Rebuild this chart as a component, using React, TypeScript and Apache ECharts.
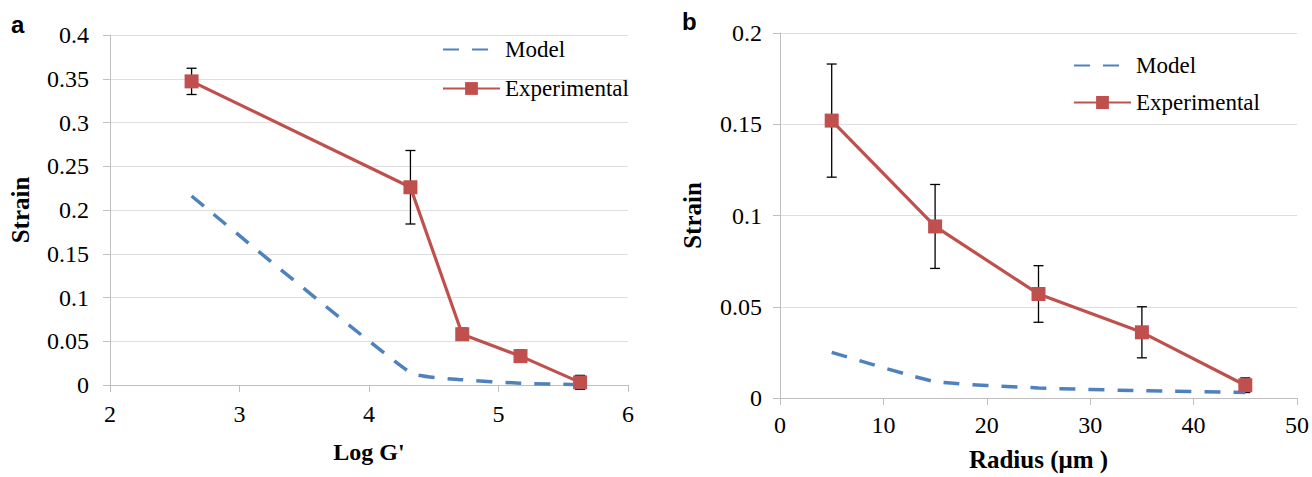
import React, { useEffect, useRef } from "react";
import * as echarts from "echarts";

// Panel a
const logG = [2.63, 4.32, 4.72, 5.17, 5.63];
const expA = [0.347, 0.226, 0.058, 0.033, 0.003];
const errA = [0.015, 0.042, 0.007, 0.007, 0.008];
const modelA = [0.216, 0.014, 0.006, 0.002, 0.0003];

// Panel b
const radius = [5, 15, 25, 35, 45];
const expB = [0.152, 0.094, 0.057, 0.036, 0.007];
const errB = [0.031, 0.023, 0.0155, 0.014, 0.004];
const modelB = [0.025, 0.009, 0.0055, 0.004, 0.003];

const RED = "#C0504D";
const BLUE = "#4F81BD";
const AXIS = "#bfbfbf";
const SERIF = "'Liberation Serif', 'DejaVu Serif', serif";

const fmt = (v: number) => String(+v.toFixed(2));

function errorSeries(xs: number[], ys: number[], es: number[], idx: number) {
  return {
    type: "custom",
    xAxisIndex: idx,
    yAxisIndex: idx,
    z: 1,
    silent: true,
    data: xs.map((x, i) => [x, ys[i] - es[i], ys[i] + es[i]]),
    renderItem: (params: any, api: any) => {
      const lo = api.coord([api.value(0), api.value(1)]);
      const hi = api.coord([api.value(0), api.value(2)]);
      const w = 5;
      const style = { stroke: "#000", lineWidth: 1.3 };
      return {
        type: "group",
        children: [
          { type: "line", shape: { x1: lo[0], y1: lo[1], x2: hi[0], y2: hi[1] }, style },
          { type: "line", shape: { x1: lo[0] - w, y1: lo[1], x2: lo[0] + w, y2: lo[1] }, style },
          { type: "line", shape: { x1: hi[0] - w, y1: hi[1], x2: hi[0] + w, y2: hi[1] }, style },
        ],
      };
    },
  };
}

function xAxis(idx: number, min: number, max: number, interval: number, name: string, fs: number, nfs: number, gap: number, margin: number) {
  return {
    type: "value",
    gridIndex: idx,
    min,
    max,
    interval,
    name,
    nameLocation: "middle",
    nameGap: gap,
    nameTextStyle: { fontFamily: SERIF, fontWeight: "bold", fontSize: nfs, color: "#000" },
    axisLine: { show: true, onZero: false, lineStyle: { color: AXIS, width: 1 } },
    axisTick: { show: true, length: 7, lineStyle: { color: AXIS } },
    axisLabel: { fontFamily: SERIF, fontSize: fs, color: "#000", margin },
    splitLine: { show: false },
  };
}

function yAxis(idx: number, max: number, nameGap: number, fs: number, margin: number) {
  return {
    type: "value",
    gridIndex: idx,
    min: 0,
    max,
    interval: 0.05,
    name: "Strain",
    nameLocation: "middle",
    nameGap,
    nameRotate: 90,
    nameTextStyle: { fontFamily: SERIF, fontWeight: "bold", fontSize: 25, color: "#000" },
    axisLine: { show: true, lineStyle: { color: AXIS, width: 1 } },
    axisTick: { show: true, length: 7, lineStyle: { color: AXIS } },
    axisLabel: { fontFamily: SERIF, fontSize: fs, color: "#000", margin, formatter: fmt },
    splitLine: { show: true, lineStyle: { color: "#dedede", width: 1 } },
  };
}

function legend(left: number, top: number, fs: number, gap: number) {
  return {
    orient: "vertical",
    left,
    top,
    padding: 0,
    itemWidth: 57,
    itemHeight: 16,
    itemGap: gap,
    data: [{ name: "Model", itemStyle: { opacity: 0 } }, { name: "Experimental" }],
    textStyle: { fontFamily: SERIF, fontSize: fs, color: "#000" },
    selectedMode: false,
  };
}

export default function App() {
  const ref = useRef<HTMLDivElement>(null);
  useEffect(() => {
    if (!ref.current) return;
    const chart = echarts.init(ref.current, undefined, { renderer: "svg" });
    const lineCommon = {
      symbol: "none",
      lineStyle: { color: BLUE, width: 3.5, type: [16, 13] },
      itemStyle: { color: BLUE },
      z: 2,
    };
    const expCommon = {
      symbol: "rect",
      symbolSize: 14,
      lineStyle: { color: RED, width: 3.2 },
      itemStyle: { color: RED },
      z: 3,
    };
    chart.setOption({
      animation: false,
      backgroundColor: "#fff",
      grid: [
        { left: 110, top: 35, width: 518, height: 350 },
        { left: 780, top: 33, width: 518, height: 370 },
      ],
      xAxis: [
        xAxis(0, 2, 6, 1, "Log G'", 24, 24, 55, 17),
        xAxis(1, 0, 50, 10, "Radius (\u03bcm )", 24, 25, 49, 15),
      ],
      yAxis: [yAxis(0, 0.4, 77, 24, 21), yAxis(1, 0.2, 75, 24, 18)],
      legend: [legend(442, 38, 23, 16), legend(1073, 54, 23, 14)],
      graphic: [
        { type: "text", left: 11, top: 12, style: { text: "a", font: "bold 24px 'Liberation Sans', Arial, sans-serif", fill: "#000" } },
        { type: "text", left: 682, top: 9, style: { text: "b", font: "bold 24px 'Liberation Sans', Arial, sans-serif", fill: "#000" } },
      ],
      series: [
        { name: "Model", type: "line", xAxisIndex: 0, yAxisIndex: 0, smooth: 0.15, data: logG.map((x, i) => [x, modelA[i]]), ...lineCommon },
        errorSeries(logG, expA, errA, 0),
        { name: "Experimental", type: "line", xAxisIndex: 0, yAxisIndex: 0, data: logG.map((x, i) => [x, expA[i]]), ...expCommon },
        { name: "Model", type: "line", xAxisIndex: 1, yAxisIndex: 1, smooth: 0.15, data: radius.map((x, i) => [x, modelB[i]]), ...lineCommon },
        errorSeries(radius, expB, errB, 1),
        { name: "Experimental", type: "line", xAxisIndex: 1, yAxisIndex: 1, data: radius.map((x, i) => [x, expB[i]]), ...expCommon },
      ],
    });
    return () => chart.dispose();
  }, []);
  return <div ref={ref} style={{ position: "fixed", left: 0, top: 0, width: 1312, height: 477 }} />;
}
